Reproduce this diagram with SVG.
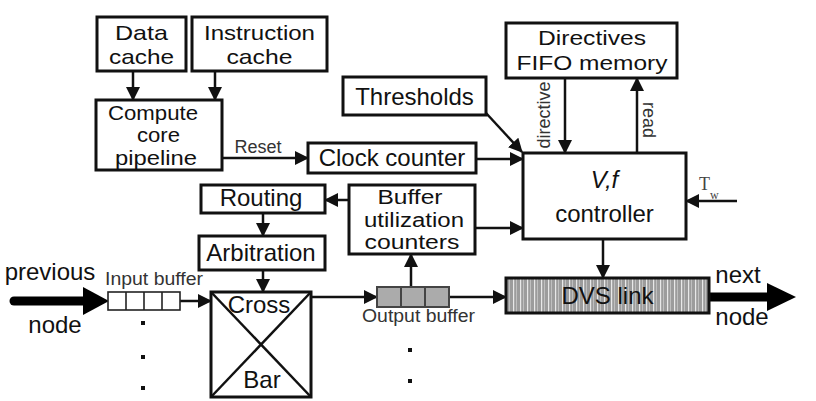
<svg xmlns="http://www.w3.org/2000/svg" width="816" height="401" viewBox="0 0 816 401">
<style>
.box{fill:#fff;stroke:#111;stroke-width:3}
.t{font-family:"Liberation Sans",Arial,sans-serif;font-size:24px;fill:#111;text-anchor:middle}
.m{font-family:"Liberation Sans",Arial,sans-serif;font-size:21px;fill:#111;text-anchor:middle}
.n{font-family:"Liberation Sans",Arial,sans-serif;font-size:20px;fill:#111;text-anchor:middle}
.s{font-family:"Liberation Sans",Arial,sans-serif;font-size:18px;fill:#333;text-anchor:middle}
.c{fill:none;stroke:#111;stroke-width:2.5}
.thick{fill:none;stroke:#000;stroke-width:9}
.dot{fill:#111}
</style>
<defs>
<marker id="ah" markerUnits="userSpaceOnUse" markerWidth="14" markerHeight="14" refX="13" refY="7" orient="auto">
<path d="M0,0 L14,7 L0,14 z" fill="#111"/>
</marker>
<pattern id="stripes" patternUnits="userSpaceOnUse" width="7" height="10">
<rect width="7" height="10" fill="#9c9c9c"/>
<rect x="2" width="1.2" height="10" fill="#e8e8e8"/>
<rect x="5" width="0.8" height="10" fill="#c8c8c8"/>
</pattern>
</defs>
<rect width="816" height="401" fill="#fff"/>

<g id="connectors">
<line class="c" x1="133" y1="71" x2="133" y2="100" marker-end="url(#ah)"/>
<line class="c" x1="215" y1="71" x2="215" y2="100" marker-end="url(#ah)"/>
<line class="c" x1="222" y1="158" x2="308" y2="158" marker-end="url(#ah)"/>
<text x="258" y="153" class="s">Reset</text>
<line class="c" x1="476" y1="159" x2="523" y2="159" marker-end="url(#ah)"/>
<line class="c" x1="486" y1="113" x2="522" y2="152" marker-end="url(#ah)"/>
<line class="c" x1="565" y1="78" x2="565" y2="153" marker-end="url(#ah)"/>
<text class="s" transform="translate(550,115) rotate(-90)">directive</text>
<line class="c" x1="637" y1="153" x2="637" y2="78" marker-end="url(#ah)"/>
<text class="s" transform="translate(643,120) rotate(90)">read</text>
<line class="c" x1="737" y1="201" x2="686" y2="201" marker-end="url(#ah)"/>
<text x="699" y="190" font-family="Liberation Serif,serif" font-size="18" fill="#444">T<tspan dy="9" font-size="12">w</tspan></text>
<line class="c" x1="349" y1="200" x2="325" y2="200" marker-end="url(#ah)"/>
<line class="c" x1="475" y1="228" x2="523" y2="228" marker-end="url(#ah)"/>
<line class="c" x1="603" y1="239" x2="603" y2="278" marker-end="url(#ah)"/>
<line class="c" x1="411" y1="287" x2="411" y2="254" marker-end="url(#ah)"/>
<line class="c" x1="263" y1="213" x2="263" y2="236" marker-end="url(#ah)"/>
<line class="c" x1="263" y1="270" x2="263" y2="292" marker-end="url(#ah)"/>
<line class="c" x1="180" y1="301" x2="211" y2="301" marker-end="url(#ah)"/>
<line class="c" x1="311" y1="297" x2="377" y2="297" marker-end="url(#ah)"/>
<line class="c" x1="449" y1="297" x2="506" y2="297" marker-end="url(#ah)"/>
<line class="thick" x1="14" y1="301" x2="86" y2="301" stroke-linecap="round"/>
<path d="M83,287 L109,301 L83,315 z" fill="#000"/>
<line class="thick" x1="709" y1="297" x2="770" y2="297"/>
<path d="M767,283 L796,297 L767,311 z" fill="#000"/>
</g>

<g id="data-cache">
<rect class="box" x="97" y="17" width="89" height="54"/>
<text class="m" x="141.5" y="40" textLength="53" lengthAdjust="spacingAndGlyphs">Data</text>
<text class="m" x="141.5" y="64" textLength="65" lengthAdjust="spacingAndGlyphs">cache</text>
</g>
<g id="instruction-cache">
<rect class="box" x="192" y="17" width="135" height="54"/>
<text class="m" x="259.5" y="40" textLength="111" lengthAdjust="spacingAndGlyphs">Instruction</text>
<text class="m" x="259.5" y="64" textLength="66" lengthAdjust="spacingAndGlyphs">cache</text>
</g>
<g id="compute-core">
<rect class="box" x="96" y="100" width="126" height="70"/>
<text class="n" x="153" y="119.5" textLength="90" lengthAdjust="spacingAndGlyphs">Compute</text>
<text class="n" x="158.5" y="142" textLength="43" lengthAdjust="spacingAndGlyphs">core</text>
<text class="n" x="156" y="164.5" textLength="82" lengthAdjust="spacingAndGlyphs">pipeline</text>
</g>
<g id="thresholds">
<rect class="box" x="343" y="77" width="143" height="38"/>
<text class="t" x="414.5" y="105">Thresholds</text>
</g>
<g id="clock-counter">
<rect class="box" x="308" y="143" width="168" height="30"/>
<text class="t" x="392" y="166">Clock counter</text>
</g>
<g id="directives-fifo">
<rect class="box" x="506" y="23" width="171" height="55"/>
<text class="m" x="592" y="45" textLength="108" lengthAdjust="spacingAndGlyphs">Directives</text>
<text class="m" x="592" y="70" textLength="151" lengthAdjust="spacingAndGlyphs">FIFO memory</text>
</g>
<g id="vf-controller">
<rect class="box" x="523" y="153" width="163" height="86"/>
<text class="t" x="604.5" y="188" font-style="italic" font-size="28">V,f</text>
<text class="t" x="604.5" y="222" font-size="29">controller</text>
</g>
<g id="routing">
<rect class="box" x="201" y="185" width="124" height="28"/>
<text class="t" x="261" y="206">Routing</text>
</g>
<g id="arbitration">
<rect class="box" x="199" y="236" width="126" height="34"/>
<text class="t" x="261" y="261">Arbitration</text>
</g>
<g id="buffer-counters">
<rect class="box" x="349" y="185" width="126" height="69"/>
<text class="n" x="410" y="204" textLength="65" lengthAdjust="spacingAndGlyphs">Buffer</text>
<text class="n" x="414" y="226.5" textLength="100" lengthAdjust="spacingAndGlyphs">utilization</text>
<text class="n" x="412" y="249" textLength="95" lengthAdjust="spacingAndGlyphs">counters</text>
</g>
<g id="dvs-link">
<rect x="506" y="278" width="203" height="35" fill="url(#stripes)" stroke="#111" stroke-width="3"/>
<text class="t" x="607.5" y="304">DVS link</text>
</g>
<g id="crossbar">
<rect class="box" x="211" y="292" width="100" height="105"/>
<line x1="211" y1="292" x2="311" y2="397" stroke="#111" stroke-width="2.5"/>
<line x1="311" y1="292" x2="211" y2="397" stroke="#111" stroke-width="2.5"/>
<text class="t" x="259" y="313" font-size="22">Cross</text>
<text class="t" x="262" y="388" font-size="21">Bar</text>
</g>
<g id="input-buffer">
<rect x="108" y="292" width="72" height="18" fill="#fff" stroke="#222" stroke-width="1.6"/>
<line x1="126" y1="292" x2="126" y2="310" stroke="#222" stroke-width="1.6"/>
<line x1="144" y1="292" x2="144" y2="310" stroke="#222" stroke-width="1.6"/>
<line x1="162" y1="292" x2="162" y2="310" stroke="#222" stroke-width="1.6"/>
<text class="s" x="154" y="285" textLength="98" lengthAdjust="spacingAndGlyphs">Input buffer</text>
<rect class="dot" x="141" y="321" width="4" height="4"/>
<rect class="dot" x="141" y="355" width="4" height="4"/>
<rect class="dot" x="141" y="386" width="4" height="4"/>
</g>
<g id="output-buffer">
<rect x="377" y="287" width="72" height="20" fill="#ababab" stroke="#444" stroke-width="2"/>
<line x1="401" y1="287" x2="401" y2="307" stroke="#444" stroke-width="2"/>
<line x1="425" y1="287" x2="425" y2="307" stroke="#444" stroke-width="2"/>
<text class="s" x="418.5" y="322" textLength="113" lengthAdjust="spacingAndGlyphs">Output buffer</text>
<rect class="dot" x="408" y="348" width="4" height="4"/>
<rect class="dot" x="408" y="379" width="4" height="4"/>
</g>
<g id="previous-node">
<text class="t" x="50" y="280">previous</text>
<text class="t" x="55" y="333">node</text>
</g>
<g id="next-node">
<text class="t" x="738" y="283">next</text>
<text class="t" x="742" y="325">node</text>
</g>
</svg>
